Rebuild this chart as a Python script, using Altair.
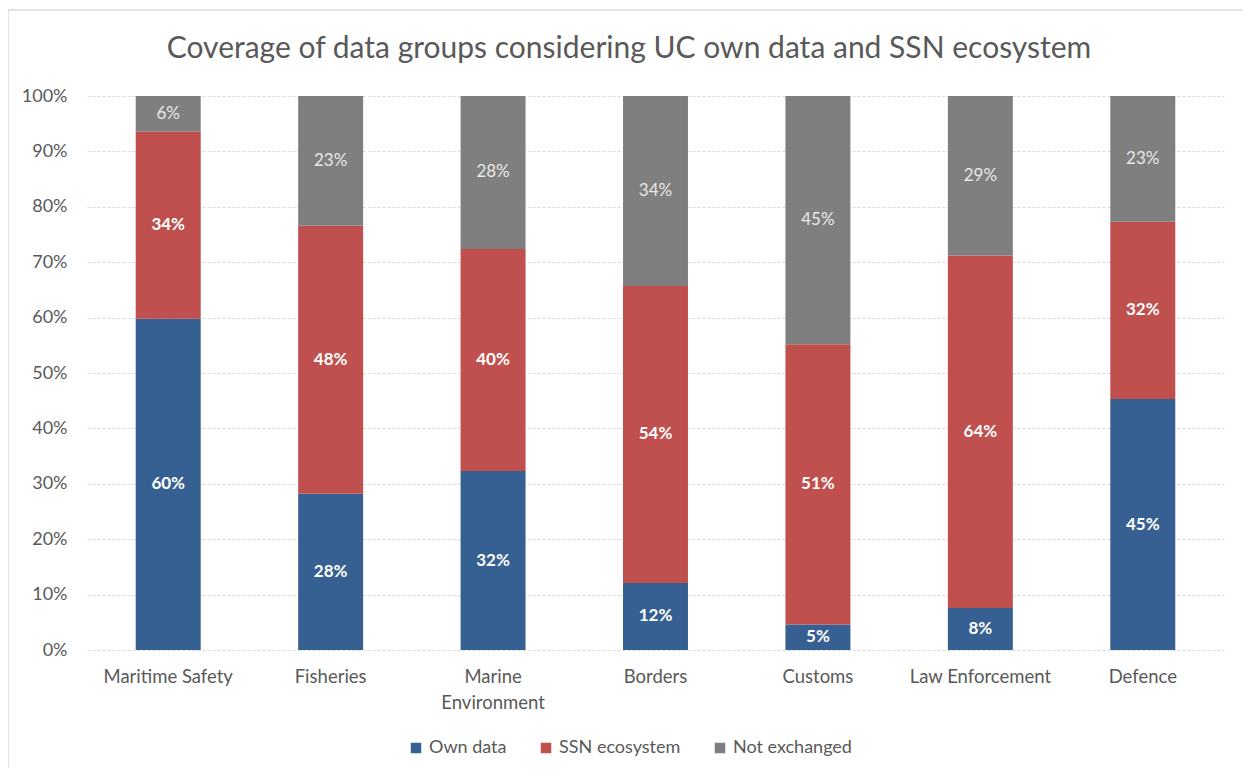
import altair as alt
import pandas as pd

categories = ["Maritime Safety", "Fisheries", "Marine Environment", "Borders",
              "Customs", "Law Enforcement", "Defence"]
own_data = [59.8, 28.2, 32.3, 12.1, 4.6, 7.6, 45.3]
ssn_ecosystem = [33.8, 48.4, 40.1, 53.6, 50.6, 63.6, 32.0]
not_exchanged = [6.4, 23.4, 27.6, 34.3, 44.8, 28.8, 22.7]
series = ["Own data", "SSN ecosystem", "Not exchanged"]
colors = ["#376092", "#C0504D", "#7F7F7F"]
y_ticks = [0, 10, 20, 30, 40, 50, 60, 70, 80, 90, 100]
title_text = ["Coverage of data groups considering UC own data and SSN ecosystem"]

rows = []
for i, c in enumerate(categories):
    for k, (s, vals) in enumerate(zip(series, [own_data, ssn_ecosystem, not_exchanged])):
        rows.append({"category": c, "series": s, "order": k, "value": vals[i]})
df = pd.DataFrame(rows)

FONT = "Lato"
GREY_TXT = "#595959"

base = alt.Chart(df).transform_stack(
    stack="value", as_=["y0", "y1"], groupby=["category"],
    sort=[alt.SortField("order", order="ascending")]
).transform_calculate(
    mid="(datum.y0 + datum.y1) / 2",
    label="format(datum.value, '.0f') + '%'"
)

x_enc = alt.X("category:N", sort=categories, title=None,
              scale=alt.Scale(paddingInner=0.6, paddingOuter=0.3),
              axis=alt.Axis(labelAngle=0, labelFont=FONT, labelFontSize=18.5,
                            labelColor=GREY_TXT, labelPadding=17, ticks=False,
                            domain=False, labelLineHeight=26,
                            labelExpr="datum.value == 'Marine Environment' ? ['Marine', 'Environment'] : datum.value"))

bars = base.mark_bar().encode(
    x=x_enc,
    y=alt.Y("y0:Q", title=None, scale=alt.Scale(domain=[0, 100], nice=False),
            axis=alt.Axis(values=y_ticks, labelExpr="datum.value + '%'",
                          labelFont=FONT, labelFontSize=18, labelColor=GREY_TXT,
                          labelPadding=20, ticks=False, domain=False,
                          gridColor="#d9d9d9", gridDash=[3, 2], gridWidth=1)),
    y2="y1:Q",
    color=alt.Color("series:N", sort=series,
                    scale=alt.Scale(domain=series, range=colors),
                    legend=alt.Legend(title=None, orient="none", direction="horizontal",
                                      legendX=320, legendY=643, symbolType="square",
                                      symbolSize=110, symbolStrokeWidth=0,
                                      labelFont=FONT, labelFontSize=18,
                                      labelColor=GREY_TXT, columnPadding=30,
                                      labelOffset=4)),
)

labels_main = base.transform_filter("datum.series != 'Not exchanged'").mark_text(
    font=FONT, fontSize=17, fontWeight="bold", color="white", baseline="middle"
).encode(x=alt.X("category:N", sort=categories), y="mid:Q", text="label:N")

labels_top = base.transform_filter("datum.series == 'Not exchanged'").mark_text(
    font=FONT, fontSize=17, color="#e8e8e8", baseline="middle"
).encode(x=alt.X("category:N", sort=categories), y="mid:Q", text="label:N")

border = alt.Chart(pd.DataFrame({"a": [0]})).mark_rect(
    fill=None, stroke="#d9d9d9", strokeWidth=1.5
).encode(x=alt.value(-79), y=alt.value(-86), x2=alt.value(1300), y2=alt.value(800))

title = alt.Chart(pd.DataFrame({"t": title_text})).mark_text(
    font=FONT, fontSize=30, color=GREY_TXT, align="center", baseline="alphabetic"
).encode(x=alt.value(542), y=alt.value(-38), text="t:N")

chart = alt.layer(border, bars, labels_main, labels_top, title).properties(
    width=1137, height=554,
    autosize=alt.AutoSizeParams(type="none"),
    padding={"left": 79, "top": 88, "right": 18, "bottom": 118},
).configure_view(stroke=None)

chart.save("out.html", embed_options={"renderer": "svg", "actions": False})
